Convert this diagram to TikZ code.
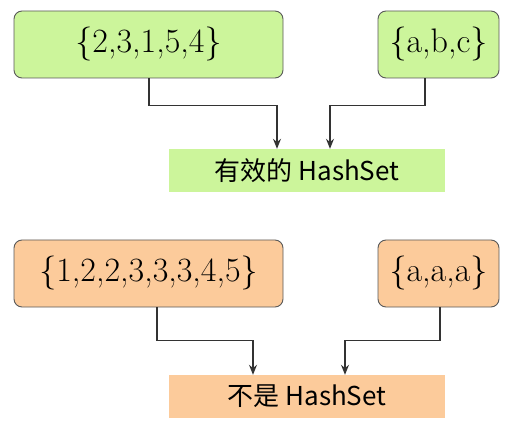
\documentclass[tikz,border=0pt]{standalone}
\usepackage{fontspec}
\newfontfamily\cjk{Noto Sans CJK SC}
\usetikzlibrary{arrows.meta}
\definecolor{setgreen}{HTML}{CCF59B}
\definecolor{setorange}{HTML}{FCCB9B}
\tikzset{
  setbox/.style={draw=black!65, line width=0.9pt, rounded corners=8pt, inner sep=0pt,
    font=\fontsize{34}{38}\selectfont},
  resbox/.style={inner sep=0pt, minimum width=276pt, minimum height=43pt,
    font=\cjk\fontsize{26}{30}\selectfont},
  link/.style={-{Stealth[length=10pt,width=8pt]}, draw=black!80, line width=1.2pt}
}
\begin{document}
\begin{tikzpicture}[x=1pt,y=-1pt]
      \useasboundingbox (0,0) rectangle (512,425);
      \draw
        (148.5,44.5) node[setbox, fill=setgreen, minimum width=269pt, minimum height=67pt] (s1){\{2,3,1,5,4\}}
        (438.5,44.5) node[setbox, fill=setgreen, minimum width=121pt, minimum height=67pt] (s2){\{a,b,c\}}
        (307,170.5) node[resbox, fill=setgreen] (r1){有效的 HashSet}
        (148.5,273.5) node[setbox, fill=setorange, minimum width=269pt, minimum height=67pt] (s3){\{1,2,2,3,3,3,4,5\}}
        (438.5,273.5) node[setbox, fill=setorange, minimum width=121pt, minimum height=67pt] (s4){\{a,a,a\}}
        (307,396.5) node[resbox, fill=setorange] (r2){不是 HashSet};
      \begin{scope}[link]
        \draw ([xshift=0.5pt]s1.south) -- ++(0,27) -| ([xshift=-30pt]r1.north);
        \draw ([xshift=-13.5pt]s2.south) -- ++(0,27) -| ([xshift=23pt]r1.north);
        \draw ([xshift=8.5pt]s3.south) -- ++(0,33) -| ([xshift=-54pt]r2.north);
        \draw ([xshift=1.5pt]s4.south) -- ++(0,33) -| ([xshift=38pt]r2.north);
      \end{scope}
    \end{tikzpicture}
\end{document}
